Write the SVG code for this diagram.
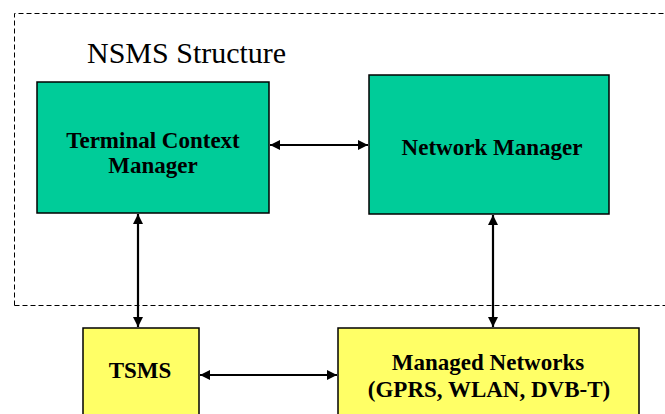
<svg xmlns="http://www.w3.org/2000/svg" width="665" height="414" viewBox="0 0 665 414">
<style>
.box{stroke:#000;stroke-width:1.5}
.g{fill:#00CC99}
.y{fill:#FFFF66}
.t{font-family:"Liberation Serif","Times New Roman",serif;font-weight:bold;font-size:23px;text-anchor:middle;fill:#000}
.title{font-family:"Liberation Serif","Times New Roman",serif;font-size:30px;fill:#000}
.c{stroke:#000;stroke-width:2.2;fill:none;marker-start:url(#ah);marker-end:url(#ah)}
</style>
<defs>
<marker id="ah" viewBox="0 0 10 10" refX="10" refY="5" markerWidth="10" markerHeight="10" orient="auto-start-reverse" markerUnits="userSpaceOnUse">
<path d="M0,0 L10,5 L0,10 z" fill="#000"/>
</marker>
</defs>
<rect width="665" height="414" fill="#fff"/>
<g id="frame">
<path d="M14.5,305.5 V13.5 H670 M14.5,305.5 H670" fill="none" stroke="#000" stroke-width="1" stroke-dasharray="5,3"/>
<text class="title" x="87" y="63">NSMS Structure</text>
</g>
<g id="tcm">
<rect class="box g" x="37" y="82" width="232" height="131"/>
<text class="t" x="153" y="148">Terminal Context</text>
<text class="t" x="153" y="173">Manager</text>
</g>
<g id="nm">
<rect class="box g" x="369" y="75" width="240" height="139"/>
<text class="t" x="492" y="155">Network Manager</text>
</g>
<g id="tsms">
<rect class="box y" x="83" y="328" width="116" height="100"/>
<text class="t" x="140" y="378">TSMS</text>
</g>
<g id="mn">
<rect class="box y" x="338" y="328" width="301" height="100"/>
<text class="t" x="488" y="370">Managed Networks</text>
<text class="t" x="489" y="397">(GPRS, WLAN, DVB-T)</text>
</g>
<g id="connectors">
<line class="c" x1="270" y1="145" x2="368" y2="145"/>
<line class="c" x1="138" y1="214" x2="138" y2="327"/>
<line class="c" x1="493" y1="215" x2="493" y2="327"/>
<line class="c" x1="200" y1="375" x2="337" y2="375"/>
</g>
</svg>
